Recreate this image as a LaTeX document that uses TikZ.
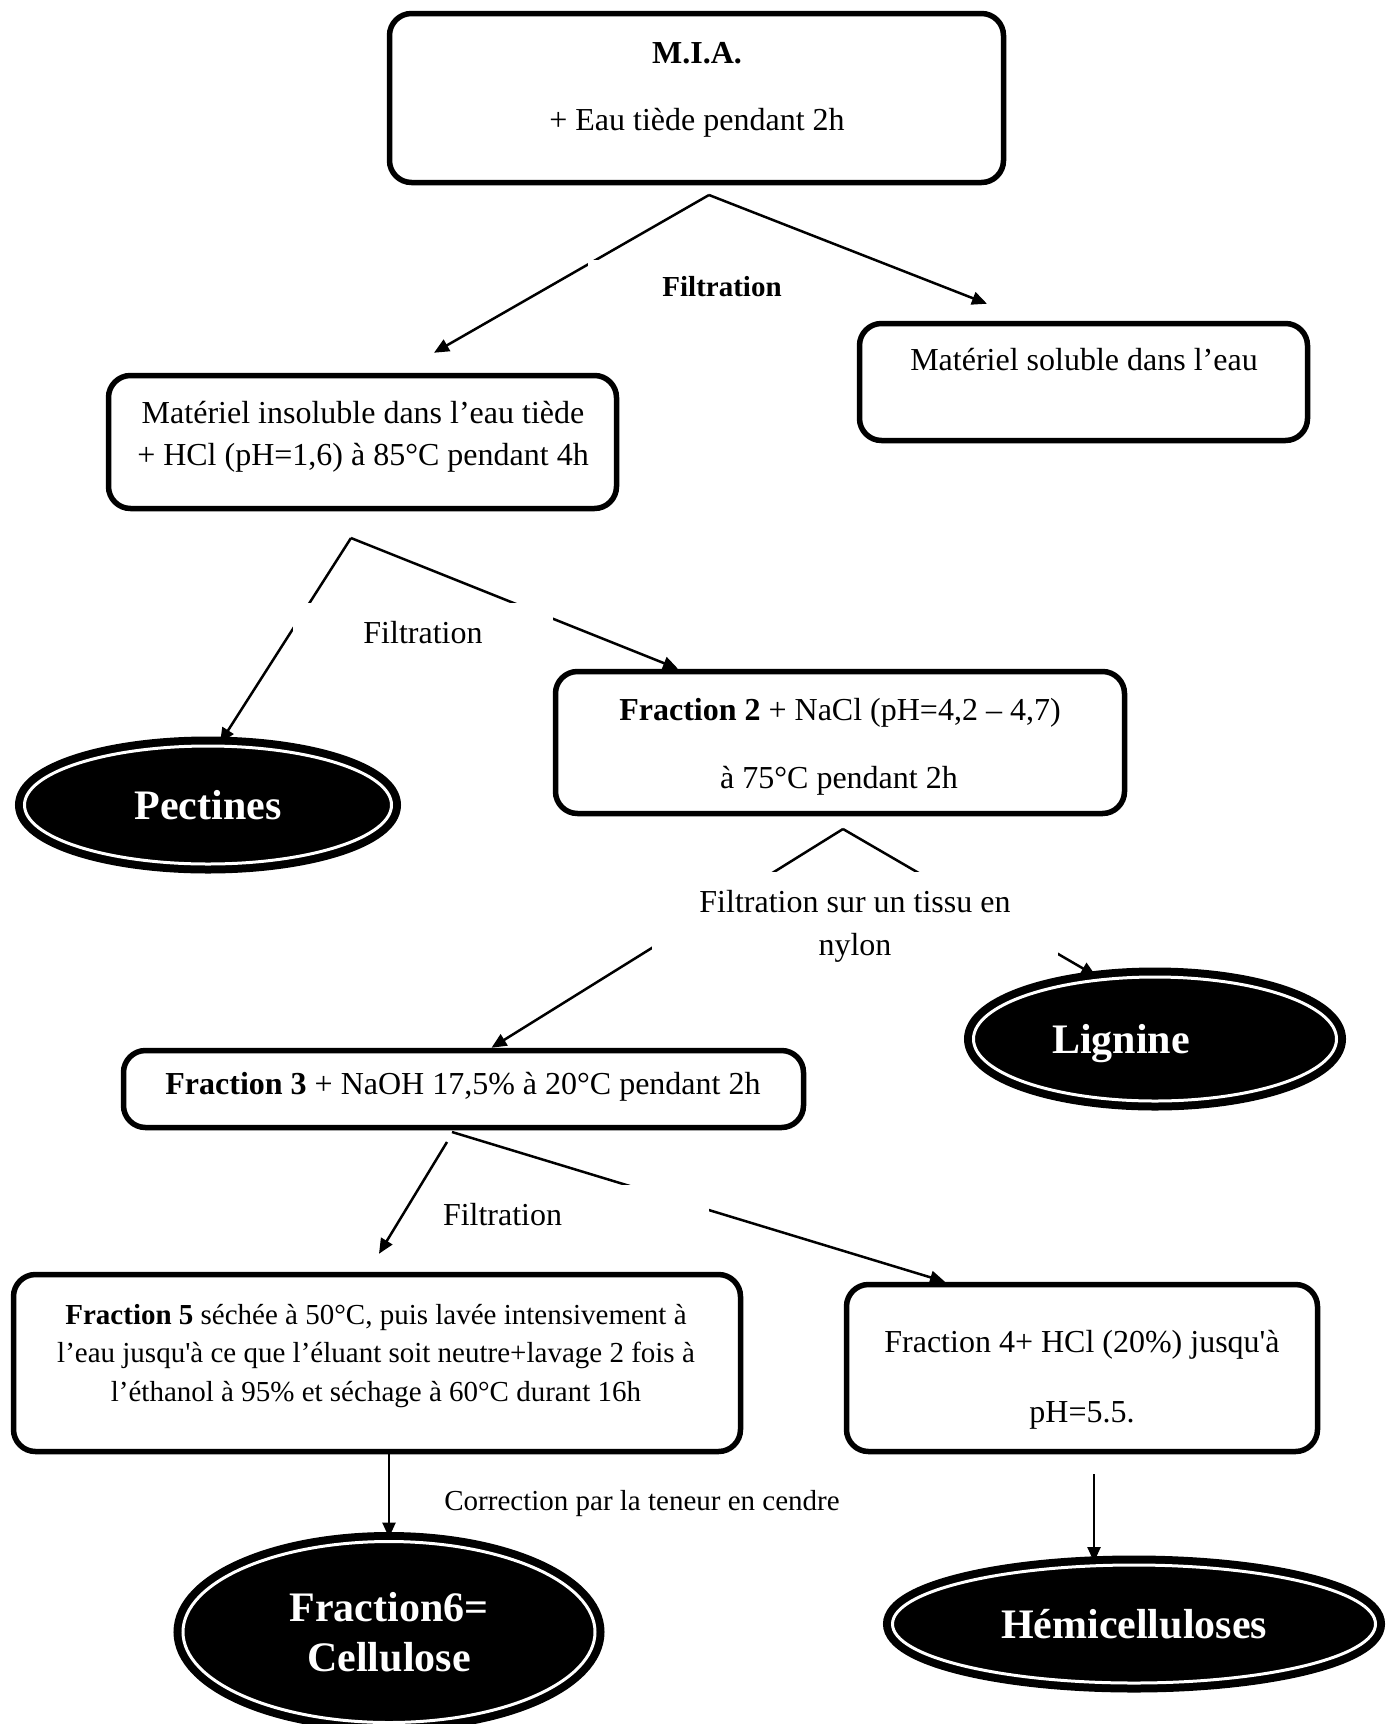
\documentclass[tikz,border=0pt]{standalone}
\usepackage{fontspec}
\setmainfont{Liberation Serif}
\usetikzlibrary{shapes.geometric,arrows.meta,calc}
\begin{document}
\begin{tikzpicture}[x=1pt,y=-1pt,
  box/.style={draw, line width=5.5pt, rounded corners=22pt, inner sep=0pt},
  res/.style={ellipse, fill=black, draw=black, line width=8pt, double=white, double distance=3pt, inner sep=0pt, text=white, font=\fontsize{42}{50}\selectfont\bfseries, align=center},
  txt/.style={anchor=base, inner sep=0pt, font=\fontsize{32}{43}\selectfont},
  stxt/.style={anchor=base, inner sep=0pt, font=\fontsize{29}{38}\selectfont},
  lab/.style={fill=white, inner sep=0pt, align=center, font=\fontsize{32}{43}\selectfont},
  arr/.style={line width=2.5pt, -{Triangle[length=15pt,width=13pt]}}
]
\useasboundingbox (0,0) rectangle (1395,1724);

% boxes
\node[box, minimum width=614pt, minimum height=169pt] (b1) at (696.5,98) {};
\node[box, minimum width=448pt, minimum height=117pt] (b2) at (1083.5,382) {};
\node[box, minimum width=508pt, minimum height=133pt] (b3) at (362.5,442) {};
\node[box, minimum width=569pt, minimum height=142pt] (b4) at (840,742.5) {};
\node[box, minimum width=680pt, minimum height=77pt] (b5) at (463.5,1089) {};
\node[box, minimum width=727pt, minimum height=177pt] (b6) at (377,1363) {};
\node[box, minimum width=471pt, minimum height=167pt] (b7) at (1082,1368) {};

% texts in boxes
\node[txt] (t1a) at (697,63) {\textbf{M.I.A.}};
\node[txt] (t1b) at (697,130) {+ Eau tiède pendant 2h};
\node[txt] (t2) at (1084,370) {Matériel soluble dans l’eau};
\node[txt] (t3a) at (363,423) {Matériel insoluble dans l’eau tiède};
\node[txt] (t3b) at (363,465) {+ HCl (pH=1,6) à 85°C pendant 4h};
\node[txt] (t4a) at (840,720) {\textbf{Fraction 2} + NaCl (pH=4,2 – 4,7)};
\node[txt] (t4b) at (839,788) {à 75°C pendant 2h};
\node[txt] (t5) at (463,1094) {\textbf{Fraction 3} + NaOH 17,5\% à 20°C pendant 2h};
\node[stxt] (t6a) at (376,1324) {\textbf{Fraction 5} séchée à 50°C, puis lavée intensivement à};
\node[stxt] (t6b) at (376,1362) {l’eau jusqu\textquotesingle à ce que l’éluant soit neutre+lavage 2 fois à};
\node[stxt] (t6c) at (376,1401) {l’éthanol à 95\% et séchage à 60°C durant 16h};
\node[txt] (t7a) at (1082,1352) {Fraction 4+ HCl (20\%) jusqu\textquotesingle à};
\node[txt] (t7b) at (1082,1422) {pH=5.5.};
\node[stxt] (corr) at (642,1510) {Correction par la teneur en cendre};

% result ellipses
\node[res, minimum width=367pt, minimum height=118pt] (pect) at (208,805) {Pectines};
\node[res, minimum width=363pt, minimum height=124pt] (lig) at (1155,1039) {\raisebox{-4.5pt}[\height][\depth]{Lignine}\hspace*{68pt}};
\node[res, minimum width=412pt, minimum height=181pt] (cel) at (389,1632) {Fraction6=\\Cellulose};
\node[res, minimum width=483pt, minimum height=118pt] (hemi) at (1134,1624) {Hémicelluloses};

% connectors
\coordinate (f1) at (709,195);
\draw[arr] (f1) -- ($(b3.north)+(71.5,-20)$);
\draw[arr] (f1) -- ($(b2.north)+(-96.5,-17)$);
\coordinate (f2) at (351,538);
\draw[arr] (f2) -- ($(pect.north)+(12,1)$);
\draw[arr] (f2) -- ($(b4.north)+(-162,0)$);
\coordinate (f3) at (843,829);
\draw[arr] (f3) -- ($(b5.north)+(28,0)$);
\draw[arr] (f3) -- ($(lig.north)+(-59,3)$);
\coordinate (f4a) at (447,1142);
\coordinate (f4b) at (452,1132);
\draw[arr] (f4a) -- ($(b6.north)+(2,-18)$);
\draw[arr] (f4b) -- ($(b7.north)+(-137,0)$);
\draw[arr] (b6.south -| cel.north) -- (cel.north);
\coordinate (f5) at ($(b7.south)+(12,20)$);
\draw[arr] (f5) -- ($(hemi.north)+(-40,1)$);

% labels (white boxes over connectors)
\node[lab, font=\fontsize{29}{36}\selectfont\bfseries, minimum width=268pt, minimum height=54pt] (l1) at (722,287) {Filtration};
\node[lab, minimum width=260pt, minimum height=60pt] (l2) at (423,633) {Filtration};
\node[lab, minimum width=406pt, minimum height=94pt] (l3) at (855,919) {\rule{0pt}{36pt}Filtration sur un tissu en\\nylon};
\node[lab, text width=253pt, align=left, inner xsep=13pt, minimum height=60pt] (l4) at (569.5,1215) {Filtration};
\end{tikzpicture}
\end{document}
